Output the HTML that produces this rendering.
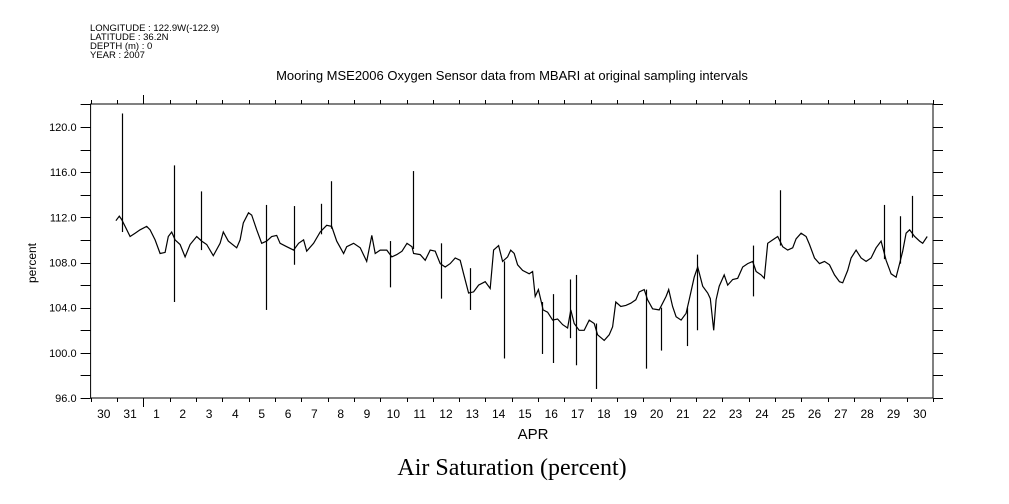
<!DOCTYPE html>
<html><head><meta charset="utf-8"><style>
html,body{margin:0;padding:0;background:#fff;}
svg{display:block;font-family:"Liberation Sans",sans-serif;}
</style></head><body>
<svg id="chart" width="1009" height="504" viewBox="0 0 1009 504" xmlns="http://www.w3.org/2000/svg">
<g font-size="9.5" fill="#000">
<text x="90" y="31">LONGITUDE : 122.9W(-122.9)</text>
<text x="90" y="40">LATITUDE : 36.2N</text>
<text x="90" y="49">DEPTH (m) : 0</text>
<text x="90" y="58">YEAR : 2007</text>
</g>
<text x="512" y="80" font-size="13" text-anchor="middle">Mooring MSE2006 Oxygen Sensor data from MBARI at original sampling intervals</text>
<text transform="translate(36,263) rotate(-90)" font-size="12" text-anchor="middle">percent</text>
<text x="533" y="439" font-size="15" text-anchor="middle">APR</text>
<text x="512" y="475" font-size="24" text-anchor="middle" font-family="Liberation Serif, serif">Air Saturation (percent)</text>
<g id="axes"></g>
<g id="marks"></g>
</svg>
<script>
const traceDays = [0.96,1.09,1.18,1.31,1.50,1.69,1.88,2.13,2.26,2.45,2.64,2.83,2.95,3.08,3.21,3.40,3.59,3.78,4.03,4.22,4.41,4.66,4.92,5.04,5.23,5.55,5.68,5.80,6.00,6.12,6.31,6.50,6.69,6.88,7.07,7.20,7.45,7.71,7.90,8.09,8.21,8.47,8.72,8.97,9.16,9.35,9.61,9.73,9.99,10.24,10.49,10.68,10.81,11.00,11.25,11.44,11.63,11.83,12.02,12.21,12.27,12.52,12.71,12.90,13.09,13.28,13.47,13.66,13.85,14.04,14.17,14.36,14.55,14.74,14.99,15.18,15.31,15.50,
15.65,15.84,15.96,16.09,16.22,16.41,16.66,16.79,16.89,17.01,17.10,17.19,17.36,17.55,17.74,17.93,18.12,18.24,18.37,18.56,18.75,18.94,19.13,19.26,19.51,19.70,19.83,19.95,20.14,20.33,20.52,20.71,20.84,21.03,21.16,21.35,21.60,21.86,21.96,22.11,22.24,22.43,22.62,22.74,22.93,23.06,23.25,23.44,23.54,23.67,23.76,23.88,24.07,24.20,24.39,24.58,24.77,24.96,25.15,25.28,25.47,25.59,25.72,25.91,26.10,26.29,26.48,26.67,26.80,26.99,27.18,27.31,27.50,27.69,27.88,28.07,28.26,28.45,28.57,28.76,28.89,29.08,29.27,29.46,29.65,29.84,30.03,30.22,30.41,30.60,30.73,30.85,30.98,31.11,31.30,31.49,31.61,31.78];
const traceVals = [111.7,112.1,111.8,111.2,110.3,110.6,110.9,111.2,110.9,110.0,108.8,108.9,110.3,110.7,110.0,109.6,108.5,109.6,110.3,109.9,109.6,108.6,109.7,110.7,109.9,109.3,110.0,111.5,112.4,112.2,110.9,109.7,109.9,110.3,110.4,109.7,109.4,109.1,109.7,110.0,109.0,109.7,110.7,111.3,111.2,109.9,108.8,109.4,109.7,109.3,108.1,110.4,108.8,109.1,109.1,108.5,108.7,109.0,109.7,109.4,108.8,108.7,108.2,109.1,109.0,107.9,107.6,107.9,108.4,108.2,107.0,105.3,105.4,106.0,106.3,105.7,109.1,109.5,
108.1,108.5,109.1,108.8,107.8,107.3,107.0,107.2,105.0,105.6,104.7,103.8,103.6,102.9,103.0,102.5,102.2,103.8,102.6,102.0,102.0,102.9,102.6,101.6,101.1,101.6,102.3,104.5,104.1,104.2,104.4,104.7,105.4,105.6,104.7,103.9,103.8,105.0,105.6,104.1,103.2,102.9,103.5,104.7,106.7,107.6,105.9,105.3,104.8,102.0,104.7,105.9,106.9,106.0,106.5,106.6,107.6,107.9,108.1,107.2,106.9,106.6,109.7,110.0,110.3,109.4,109.1,109.3,110.1,110.6,110.3,109.6,108.4,107.9,108.1,107.8,106.9,106.3,106.2,107.3,108.4,109.1,108.4,108.1,108.4,109.3,109.9,108.2,107.0,106.7,107.9,109.0,110.6,110.9,110.3,109.9,109.7,110.3];
const spikeDays = [1.18,3.18,4.18,6.68,7.74,8.75,9.14,11.39,12.23,13.31,14.40,15.69,17.14,17.58,18.21,18.43,19.19,21.10,21.67,22.65,23.02,25.15,26.18,30.13,30.73,31.20];
const spikeHigh = [121.2,116.6,114.3,113.1,113.0,113.2,115.2,109.9,116.1,109.7,107.5,108.1,104.5,105.2,106.5,106.9,102.6,105.6,104.0,104.0,108.7,109.5,114.4,113.1,112.1,113.9];
const spikeLow  = [110.7,104.5,109.1,103.8,107.8,110.5,111.0,105.8,109.2,104.8,103.8,99.5,99.9,99.1,101.3,98.9,96.8,98.6,100.2,100.6,102.0,105.0,109.5,108.3,107.9,110.2];
const yTickVals = [96,100,104,108,112,116,120];
const dayLabels = ["30","31","1","2","3","4","5","6","7","8","9","10","11","12","13","14","15","16","17","18","19","20","21","22","23","24","25","26","27","28","29","30"];

const X0=90.6, X1=933, Y0=398, Y1=104, VMIN=96, VMAX=122.04;
const NDAYS=32;
const xs=d=>X0+(X1-X0)*d/NDAYS;
const ys=v=>Y0-(Y0-Y1)*(v-VMIN)/(VMAX-VMIN);
const NS="http://www.w3.org/2000/svg";
const axes=document.getElementById('axes'), marks=document.getElementById('marks');
function mk(tag,parent,attrs){const e=document.createElementNS(NS,tag);for(const k in attrs)e.setAttribute(k,attrs[k]);parent.appendChild(e);return e;}

const frame=mk('rect',axes,{x:X0,y:Y1,width:X1-X0,height:Y0-Y1,fill:'none',stroke:'#000','stroke-width':1});



for(let v=96; v<=122; v+=2){
  const y=Math.round(ys(v))+0.5;
  const t1=mk('line',axes,{x1:X0-10,x2:X0,y1:y,y2:y,stroke:'#000'});
  
  
  const t2=mk('line',axes,{x1:X1,x2:X1+10,y1:y,y2:y,stroke:'#000'});
  
  
}
yTickVals.forEach(v=>{
  const t=mk('text',axes,{x:X0-14,y:ys(v)+4,'font-size':11,'text-anchor':'end'});
  t.textContent=v.toFixed(1);
  
  
});
for(let d=0; d<=NDAYS; d++){
  const x=Math.round(xs(d))+0.5;
  const major=(d===2);
  const tb=mk('line',axes,{x1:x,x2:x,y1:Y0,y2:Y0+(major?9:4),stroke:'#000'});
  
  
  const tt=mk('line',axes,{x1:x,x2:x,y1:Y1,y2:Y1-(major?9:4),stroke:'#000'});
  
  
}
dayLabels.forEach((lab,i)=>{
  const t=mk('text',axes,{x:xs(i+0.5),y:418,'font-size':12,'text-anchor':'middle'});
  t.textContent=lab;
  
  
});

let dstr=traceDays.map((d,i)=>(i?'L':'M')+xs(d).toFixed(1)+' '+ys(traceVals[i]).toFixed(1)).join(' ');
const line=mk('path',marks,{d:dstr,fill:'none',stroke:'#000','stroke-width':1.2});


spikeDays.forEach((d,i)=>{
  const x=Math.round(xs(d))+0.5;
  const s=mk('line',marks,{x1:x,x2:x,y1:ys(spikeHigh[i]),y2:ys(spikeLow[i]),stroke:'#000','stroke-width':1.2});
  
  
});
</script>
</body></html>
